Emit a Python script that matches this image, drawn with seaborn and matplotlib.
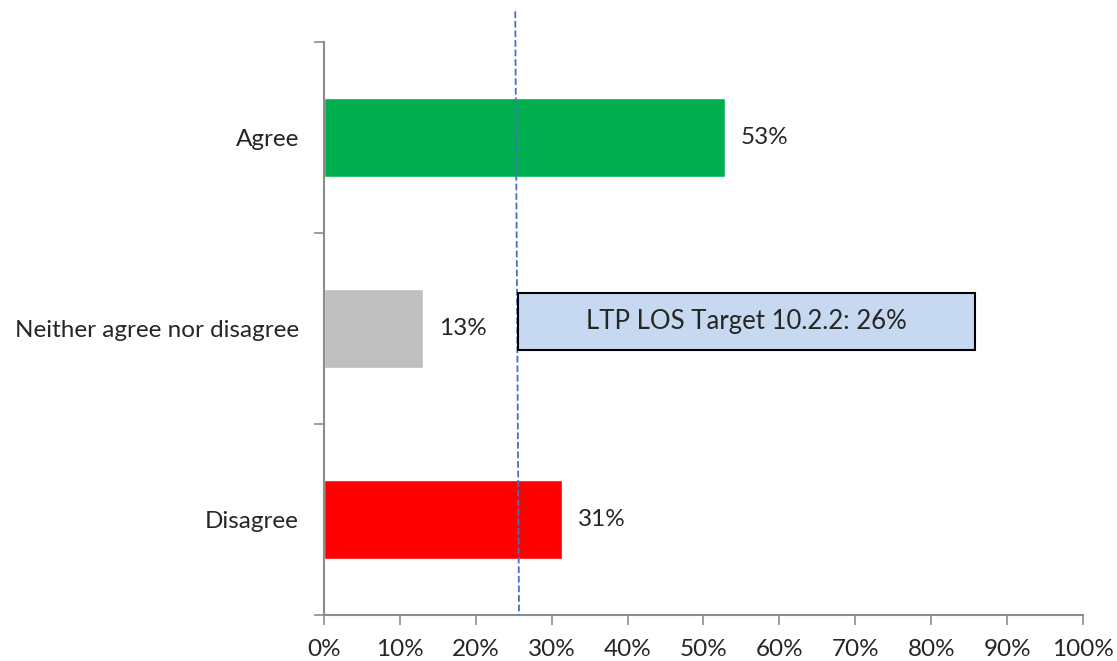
import matplotlib
matplotlib.use('Agg')
import matplotlib.pyplot as plt
import pandas as pd
import seaborn as sns
from matplotlib.patches import Rectangle
from matplotlib.ticker import PercentFormatter, FixedLocator

# Data
categories = ['Agree', 'Neither agree nor disagree', 'Disagree']
shares = [0.528, 0.131, 0.313]
bar_labels = ['53%', '13%', '31%']
bar_colors = ['#00B050', '#BFBFBF', '#FF0000']
target = 0.26
target_text = 'LTP LOS Target 10.2.2: 26%'

df = pd.DataFrame({'category': categories, 'share': shares})

sns.set_style('white')
plt.rcParams['font.family'] = ['Lato', 'DejaVu Sans']

fig = plt.figure(figsize=(11.17, 6.61), dpi=100)
ax = fig.add_axes([0.290, 0.0696, 0.6796, 0.867])

sns.barplot(data=df, x='share', y='category', hue='category', palette=bar_colors,
            order=categories, orient='h', width=0.41, legend=False, ax=ax, saturation=1)

ax.set_xlim(0, 1)
ax.set_ylim(2.5, -0.5)
ax.xaxis.set_major_formatter(PercentFormatter(1.0, decimals=0))
ax.set_xticks([i / 10 for i in range(11)])
ax.set_xlabel('')
ax.set_ylabel('')

# category separators as tick marks
ax.yaxis.set_minor_locator(FixedLocator([-0.5, 0.5, 1.5, 2.5]))
ax.tick_params(axis='y', which='major', length=0, labelsize=17.5, pad=18)
ax.tick_params(axis='y', which='minor', length=7, width=1.2, color='#8c8c8c', left=True)
ax.tick_params(axis='x', which='major', length=7, width=1.2, color='#8c8c8c',
               bottom=True, labelsize=17.5, pad=10)

for s in ['top', 'right']:
    ax.spines[s].set_visible(False)
for s in ['left', 'bottom']:
    ax.spines[s].set_color('#8c8c8c')
    ax.spines[s].set_linewidth(1.5)

# value labels
for i, (v, lab) in enumerate(zip(shares, bar_labels)):
    ax.text(v + 0.021, i, lab, va='center', ha='left', fontsize=17.5)

# target line
ax.plot([target - 0.008, target - 0.003], [-0.66, 2.5], ls='--', color='#4472C4',
        lw=1.3, clip_on=False, zorder=3)

# target box
ax.add_patch(Rectangle((0.255, 0.815), 0.603, 0.30, facecolor='#C6D9F1',
                       edgecolor='black', lw=1.5, zorder=4))
ax.text(0.5565, 0.963, target_text, ha='center', va='center', fontsize=18.5, zorder=5)

fig.savefig('out.png', dpi=100)
